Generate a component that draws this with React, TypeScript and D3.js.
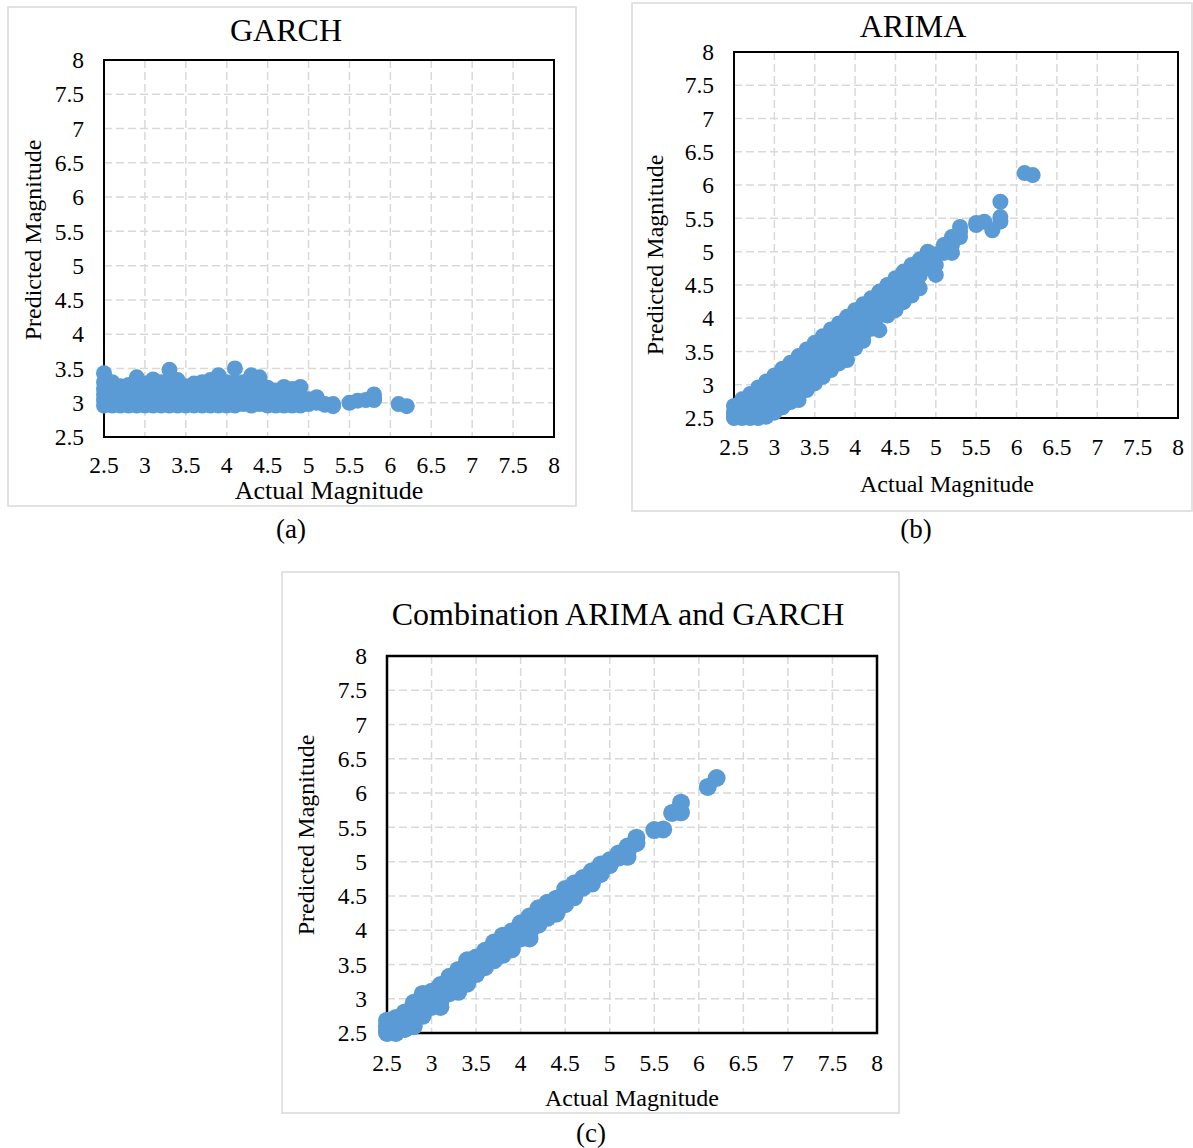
import React from 'react';
import * as d3 from 'd3';

// tick labels shared by both axes of every panel
const axisTicks = [2.5, 3, 3.5, 4, 4.5, 5, 5.5, 6, 6.5, 7, 7.5, 8];

// actual magnitudes (one entry per group of events)
const magnitudes = [
  2.5, 2.6, 2.7, 2.8, 2.9, 3.0, 3.1, 3.2, 3.3, 3.4, 3.5, 3.6, 3.7, 3.8, 3.9, 4.0, 4.1,
  4.2, 4.3, 4.4, 4.5, 4.6, 4.7, 4.8, 4.9, 5.0, 5.1, 5.2, 5.3, 5.5, 5.6, 5.7, 5.8, 6.1, 6.2,
];

// predicted magnitudes, one list per actual magnitude above
const garchPredicted = [
  [3.43, 3.3, 3.2, 3.12, 3.04, 2.96], [3.3, 3.2, 3.12, 3.04, 2.96], [3.24, 3.16, 3.08, 3.0, 2.96],
  [3.26, 3.16, 3.08, 3.0, 2.96], [3.37, 3.26, 3.16, 3.06, 2.96], [3.28, 3.18, 3.08, 3.0, 2.96],
  [3.34, 3.22, 3.12, 3.02, 2.96], [3.3, 3.2, 3.1, 3.02, 2.96], [3.48, 3.3, 3.18, 3.06, 2.96],
  [3.33, 3.2, 3.1, 3.02, 2.96], [3.24, 3.14, 3.06, 2.98, 2.96], [3.28, 3.18, 3.08, 3.0, 2.96],
  [3.3, 3.2, 3.1, 3.02, 2.96], [3.33, 3.22, 3.12, 3.02, 2.96], [3.4, 3.26, 3.14, 3.04, 2.96],
  [3.3, 3.2, 3.1, 3.02, 2.96], [3.5, 3.3, 3.18, 3.06, 2.96],
  [3.3, 3.18, 3.08, 2.98], [3.4, 3.24, 3.12, 3.02, 2.96], [3.37, 3.22, 3.1, 2.98],
  [3.22, 3.12, 3.04, 2.96], [3.18, 3.1, 3.02, 2.96], [3.23, 3.12, 3.04, 2.96],
  [3.2, 3.1, 3.02, 2.96], [3.23, 3.12, 3.02, 2.96],
  [3.05, 2.98], [3.08, 3.0], [2.98, 2.97], [2.98, 2.95],
  [3.0], [3.03], [3.04], [3.12, 3.06, 3.04], [2.98], [2.95],
];

const arimaPredicted = [
  [2.68, 2.6, 2.52, 2.5, 2.56], [2.78, 2.7, 2.62, 2.54, 2.5], [2.86, 2.78, 2.68, 2.58, 2.5],
  [2.96, 2.86, 2.76, 2.66, 2.56, 2.5], [3.05, 2.95, 2.84, 2.73, 2.62, 2.52],
  [3.14, 3.04, 2.93, 2.82, 2.7, 2.58], [3.24, 3.13, 3.02, 2.9, 2.78, 2.66],
  [3.33, 3.22, 3.1, 2.98, 2.86, 2.74], [3.43, 3.32, 3.2, 3.08, 2.96, 2.77],
  [3.53, 3.42, 3.3, 3.17, 3.04, 2.92], [3.63, 3.52, 3.4, 3.27, 3.14, 3.02],
  [3.73, 3.62, 3.5, 3.37, 3.24, 3.12], [3.83, 3.72, 3.6, 3.47, 3.34, 3.22],
  [3.92, 3.81, 3.69, 3.56, 3.44, 3.32], [4.02, 3.91, 3.79, 3.66, 3.52, 3.37],
  [4.12, 4.0, 3.88, 3.76, 3.64, 3.55], [4.21, 4.1, 3.98, 3.86, 3.74, 3.66],
  [4.3, 4.18, 4.06, 3.94, 3.84], [4.4, 4.28, 4.16, 4.04, 3.82], [4.5, 4.38, 4.26, 4.14, 4.04],
  [4.6, 4.48, 4.36, 4.24, 4.12], [4.7, 4.58, 4.46, 4.34, 4.24], [4.8, 4.68, 4.56, 4.44, 4.34],
  [4.88, 4.76, 4.64, 4.45], [5.0, 4.86, 4.75], [4.96, 4.8, 4.65], [5.1, 4.98],
  [5.22, 5.1, 4.98], [5.37, 5.3, 5.22],
  [5.43, 5.4], [5.45], [5.32], [5.75, 5.52, 5.45], [6.18], [6.15],
];

const comboPredicted = [
  [2.68, 2.6, 2.54, 2.5], [2.72, 2.64, 2.56, 2.5], [2.8, 2.72, 2.64, 2.56],
  [2.94, 2.84, 2.76, 2.68, 2.6], [3.07, 2.98, 2.9, 2.82, 2.75], [3.1, 3.02, 2.94, 2.88],
  [3.2, 3.12, 3.04, 2.96, 2.88], [3.32, 3.24, 3.16, 3.08], [3.42, 3.34, 3.26, 3.18, 3.1],
  [3.56, 3.46, 3.38, 3.3, 3.22], [3.6, 3.52, 3.44, 3.36], [3.7, 3.62, 3.54, 3.46],
  [3.82, 3.72, 3.64, 3.56], [3.92, 3.82, 3.74, 3.64], [3.98, 3.9, 3.82, 3.72],
  [4.1, 4.02, 3.94, 3.88], [4.2, 4.12, 4.04, 3.96, 3.88],
  [4.32, 4.24, 4.16, 4.08], [4.4, 4.32, 4.24, 4.18], [4.46, 4.38, 4.3, 4.24],
  [4.6, 4.52, 4.44, 4.38], [4.68, 4.6, 4.52, 4.48], [4.76, 4.7, 4.62],
  [4.86, 4.78, 4.68], [4.96, 4.88, 4.82], [5.02, 4.95], [5.12, 5.06],
  [5.22, 5.14, 5.07], [5.35, 5.27],
  [5.46], [5.47], [5.71], [5.86, 5.72], [6.09], [6.22],
];

const FONT = '"Liberation Serif", "Times New Roman", serif';
const BLUE = '#5B9BD5';
const GRID = '#d9d9d9';

const panels = [
  {
    id: 'a', title: 'GARCH', predicted: garchPredicted, r: 8,
    frame: { x: 8, y: 7, w: 568, h: 499 },
    plot: { l: 104, t: 60, r: 554, b: 437 }, border: 2,
    titlePos: [286, 41], xTitlePos: [329, 499], xTitleSize: 26, yTitlePos: [33, 240],
    tickGap: 28, captionPos: [291, 538],
  },
  {
    id: 'b', title: 'ARIMA', predicted: arimaPredicted, r: 8,
    frame: { x: 632, y: 3, w: 560, h: 508 },
    plot: { l: 734, t: 52, r: 1178, b: 418 }, border: 2,
    titlePos: [913, 37], xTitlePos: [947, 492], xTitleSize: 24, yTitlePos: [655, 255],
    tickGap: 29, captionPos: [916, 538],
  },
  {
    id: 'c', title: 'Combination ARIMA and GARCH', predicted: comboPredicted, r: 9,
    frame: { x: 282, y: 572, w: 617, h: 541 },
    plot: { l: 387, t: 656, r: 877, b: 1033 }, border: 2.5,
    titlePos: [618, 625], xTitlePos: [632, 1106], xTitleSize: 24, yTitlePos: [306, 835],
    tickGap: 30, captionPos: [591, 1142],
  },
];

const Panel = ({ cfg }) => {
  const { plot, frame } = cfg;
  const x = d3.scaleLinear().domain([2.5, 8]).range([plot.l, plot.r]);
  const y = d3.scaleLinear().domain([2.5, 8]).range([plot.b, plot.t]);
  const points = magnitudes.flatMap((m, i) => cfg.predicted[i].map((p) => ({ m, p })));
  const inner = axisTicks.slice(1, -1);

  return (
    <g>
      <rect x={frame.x} y={frame.y} width={frame.w} height={frame.h}
        fill="#fff" stroke={GRID} strokeWidth={1.5} />
      <text x={cfg.titlePos[0]} y={cfg.titlePos[1]} textAnchor="middle"
        fontSize={32} fill="#000">{cfg.title}</text>

      {inner.map((t) => (
        <line key={'gx' + t} x1={x(t)} x2={x(t)} y1={plot.t} y2={plot.b}
          stroke={GRID} strokeWidth={1.5} strokeDasharray="8,4" />
      ))}
      {inner.map((t) => (
        <line key={'gy' + t} x1={plot.l} x2={plot.r} y1={y(t)} y2={y(t)}
          stroke={GRID} strokeWidth={1.5} strokeDasharray="8,4" />
      ))}
      <rect x={plot.l} y={plot.t} width={plot.r - plot.l} height={plot.b - plot.t}
        fill="none" stroke="#000" strokeWidth={cfg.border} />

      {points.map((d, i) => (
        <circle key={i} cx={x(d.m)} cy={y(d.p)} r={cfg.r} fill={BLUE} />
      ))}

      {axisTicks.map((t) => (
        <text key={'ty' + t} x={plot.l - 20} y={y(t)} dy="0.35em" textAnchor="end"
          fontSize={23.5}>{t}</text>
      ))}
      {axisTicks.map((t) => (
        <text key={'tx' + t} x={x(t)} y={plot.b + cfg.tickGap} dy="0.35em" textAnchor="middle"
          fontSize={23.5}>{t}</text>
      ))}

      <text x={cfg.xTitlePos[0]} y={cfg.xTitlePos[1]} textAnchor="middle"
        fontSize={cfg.xTitleSize}>Actual Magnitude</text>
      <text transform={`translate(${cfg.yTitlePos[0]},${cfg.yTitlePos[1]}) rotate(-90)`}
        dy="0.35em" textAnchor="middle" fontSize={24}>Predicted Magnitude</text>

      <text x={cfg.captionPos[0]} y={cfg.captionPos[1]} textAnchor="middle"
        fontSize={27}>({cfg.id})</text>
    </g>
  );
};

export default function App() {
  return (
    <svg width={1193} height={1148} fontFamily={FONT}
      style={{ position: 'absolute', left: 0, top: 0, display: 'block', background: '#fff' }}>
      {panels.map((p) => <Panel key={p.id} cfg={p} />)}
    </svg>
  );
}
